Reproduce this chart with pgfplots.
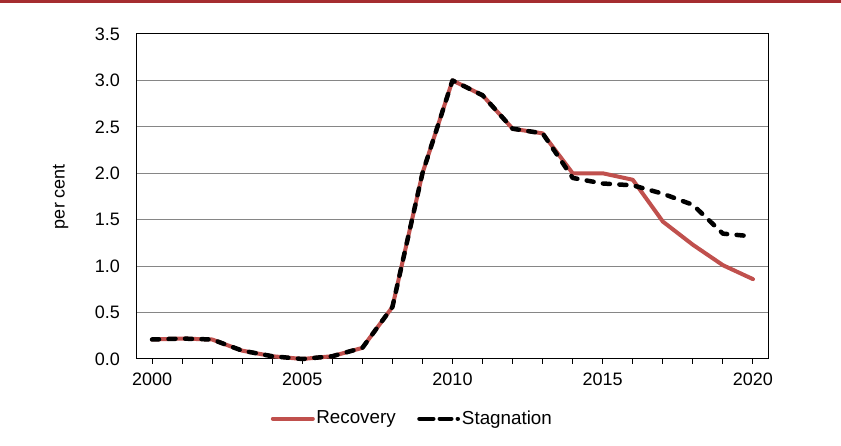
\documentclass[border=0pt]{standalone}
\usepackage{pgfplots}
\pgfplotsset{compat=1.18}
\usepackage{fontspec}
\setmainfont{Liberation Sans}
\definecolor{recov}{RGB}{192,80,77}
\definecolor{topred}{RGB}{165,45,48}
\definecolor{gridgray}{RGB}{134,134,134}
\newcommand{\chartfont}{\fontsize{18}{21}\selectfont}
\newcommand{\legfont}{\fontsize{18.8}{22}\selectfont}
\begin{document}
\chartfont
\begin{tikzpicture}[x=1pt,y=1pt]
\path[use as bounding box] (0pt,0pt) rectangle (841pt,446pt);
\fill[topred] (0pt,442.5pt) rectangle (841pt,446pt);
\begin{axis}[
  at={(137pt,87pt)}, anchor=south west,
  scale only axis, width=631pt, height=325pt,
  xmin=1999.5, xmax=2020.5, ymin=0, ymax=3.5,
  xtick={2000,2005,2010,2015,2020},
  minor xtick={2001,2002,2003,2004,2006,2007,2008,2009,2011,2012,2013,2014,2016,2017,2018,2019},
  xticklabels={2000,2005,2010,2015,2020},
  ytick={0,0.5,...,3.5},
  yticklabels={0.0,0.5,1.0,1.5,2.0,2.5,3.0,3.5},
  ymajorgrids,
  major grid style={gridgray, line width=1pt},
  axis line style={black, line width=1pt},
  x tick style={black, line width=1pt},
  xtick pos=bottom, ytick pos=left,
  tick align=outside,
  major tick length=5pt,
  minor tick length=5pt,
  y tick style={draw=none},
  ticklabel style={font=\chartfont},
  xticklabel style={yshift=-3pt},
  yticklabel style={xshift=-6pt},
  ylabel={per cent},
  ylabel style={font=\chartfont, at={(axis description cs:-0.121,0.5)}, anchor=center},
  legend style={draw=none, fill=none, at={(axis description cs:0.436,-0.184)}, anchor=center,
    legend columns=2, font=\legfont, inner xsep=0pt,
    nodes={inner xsep=1.5pt},
    /tikz/every even column/.append style={column sep=20pt}},
  legend cell align=left,
  clip=false,
]
\addplot[recov, line width=4pt, line join=round, line cap=round,
  legend image code/.code={\draw[recov, line width=4pt, line cap=round] (2pt,0pt) -- (42pt,0pt);}] coordinates {
(2000,0.21) (2001,0.22) (2002,0.21) (2003,0.09) (2004,0.03) (2005,0.0) (2006,0.03)
(2007,0.12) (2008,0.56) (2009,2.0) (2010,3.0) (2011,2.84) (2012,2.48) (2013,2.43)
(2014,2.0) (2015,2.0) (2016,1.93) (2017,1.48) (2018,1.23) (2019,1.01) (2020,0.86)
};
\addlegendentry{Recovery}
\addplot[black, line width=4.5pt, line join=round, line cap=round, dash pattern=on 7pt off 9.5pt,
  legend image code/.code={\draw[black, line width=4.5pt, line cap=round,
    dash pattern=on 13.8pt off 6.5pt on 11.5pt off 6.5pt on 0.01pt off 20pt] (2.25pt,0pt) -- (41pt,0pt);}] coordinates {
(2000,0.21) (2001,0.22) (2002,0.21) (2003,0.09) (2004,0.03) (2005,0.0) (2006,0.03)
(2007,0.12) (2008,0.56) (2009,2.0) (2010,3.0) (2011,2.84) (2012,2.48) (2013,2.43)
(2014,1.95) (2015,1.89) (2016,1.87) (2017,1.78) (2018,1.66) (2019,1.35) (2020,1.32)
};
\addlegendentry{Stagnation}
\end{axis}
\end{tikzpicture}
\end{document}
